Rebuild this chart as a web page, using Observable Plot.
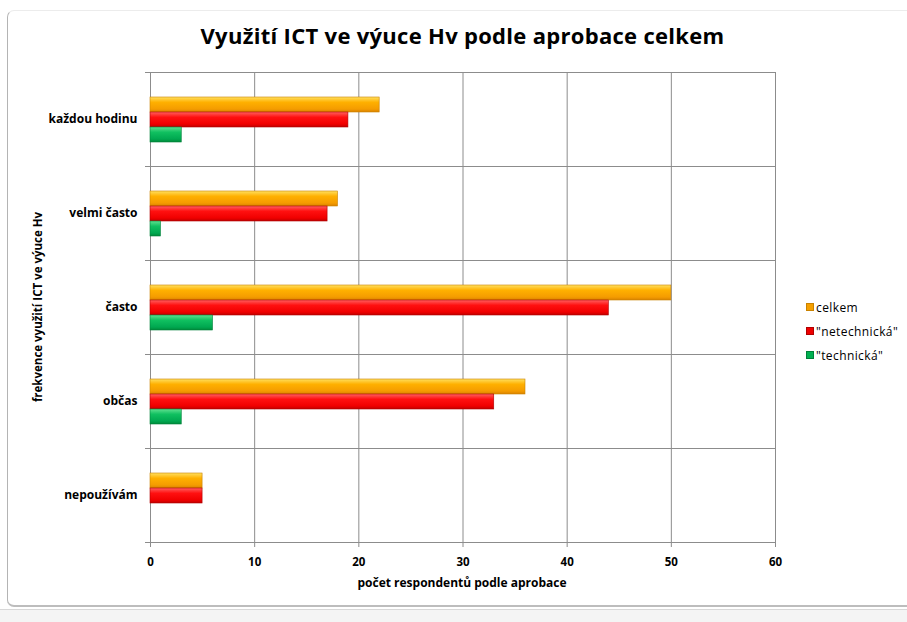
<!DOCTYPE html>
<html><head><meta charset="utf-8">
<script src="https://cdn.jsdelivr.net/npm/d3@7"></script>
<script src="https://cdn.jsdelivr.net/npm/@observablehq/plot@0.6"></script>
<style>
body{margin:0;background:#fff;font-family:"Open Sans",sans-serif;}
#wrap{position:relative;width:907px;height:622px;overflow:hidden;background:#fff;}
#frame{position:absolute;left:7px;top:10px;width:920px;height:597px;border-left:1.5px solid #b4b4b4;border-top:1px solid #ececec;border-bottom:2px solid #bdbdbd;border-top-left-radius:7px;border-bottom-left-radius:7px;box-sizing:border-box;}
#strip{position:absolute;left:0;top:609px;width:907px;height:13px;background:#f4f4f4;border-top:1px solid #d8d8d8;}
#chart{position:absolute;left:0;top:0;}
#title{position:absolute;left:0;width:925px;top:20px;text-align:center;font-weight:700;font-size:22px;color:#000;letter-spacing:0.3px;}
#ylabel{position:absolute;left:37px;top:307px;transform:translate(-50%,-50%) rotate(-90deg);white-space:nowrap;font-weight:700;font-size:11.5px;color:#000;}
#xlabel{position:absolute;left:462px;top:574px;transform:translateX(-50%);white-space:nowrap;font-weight:700;font-size:12px;color:#000;}
#legend{position:absolute;left:806px;top:295px;font-size:12px;letter-spacing:0.4px;color:#000;}
#legend div{height:24px;display:flex;align-items:center;}
#legend span.sw{display:inline-block;width:8px;height:8px;margin-right:2px;box-sizing:border-box;}
</style></head><body>
<svg width="0" height="0" style="position:absolute">
<defs>
<linearGradient id="gOrange" x1="0" y1="0" x2="0" y2="1">
<stop offset="0" stop-color="#ffe060"/><stop offset="0.35" stop-color="#ffb000"/><stop offset="0.8" stop-color="#f59c00"/><stop offset="1" stop-color="#d98300"/>
</linearGradient>
<linearGradient id="gRed" x1="0" y1="0" x2="0" y2="1">
<stop offset="0" stop-color="#ff6060"/><stop offset="0.35" stop-color="#ff1010"/><stop offset="0.8" stop-color="#f00000"/><stop offset="1" stop-color="#c00000"/>
</linearGradient>
<linearGradient id="gGreen" x1="0" y1="0" x2="0" y2="1">
<stop offset="0" stop-color="#60e090"/><stop offset="0.35" stop-color="#10c060"/><stop offset="0.8" stop-color="#00a850"/><stop offset="1" stop-color="#008a3a"/>
</linearGradient>
</defs>
</svg>
<div id="wrap">
<div id="frame"></div>
<div id="strip"></div>
<div id="chart"></div>
<div id="title">Využití ICT ve výuce Hv podle aprobace celkem</div>
<div id="ylabel">frekvence využití ICT ve výuce Hv</div>
<div id="xlabel">počet respondentů podle aprobace</div>
<div id="legend"></div>
</div>
<script>
const categories = ["každou hodinu", "velmi často", "často", "občas", "nepoužívám"];
const series = ["celkem", "\"netechnická\"", "\"technická\""];
const celkem = [22, 18, 50, 36, 5];
const netechnicka = [19, 17, 44, 33, 5];
const technicka = [3, 1, 6, 3, 0];
const xTicks = [0, 10, 20, 30, 40, 50, 60];

const fills = ["url(#gOrange)", "url(#gRed)", "url(#gGreen)"];
const strokes = ["#c98200", "#b00000", "#00803a"];
const swatch = ["#f5a000", "#ee0000", "#00b050"];

const seriesValues = [celkem, netechnicka, technicka];
const data = [];
categories.forEach((c, i) => {
  series.forEach((s, j) => {
    data.push({category: c, series: s, value: seriesValues[j][i], stroke: strokes[j]});
  });
});

const grid = "#8c8c8c";
const plot = Plot.plot({
  width: 907,
  height: 622,
  marginLeft: 150,
  marginRight: 132,
  marginTop: 70,
  marginBottom: 79,
  style: {fontFamily: "'Open Sans', sans-serif", fontSize: "11.5px", fontWeight: "bold", color: "#000", background: "transparent", overflow: "visible"},
  x: {domain: [0, 60], label: null},
  y: {domain: series, axis: null, paddingInner: 0, paddingOuter: 1.6},
  fy: {domain: categories, padding: 0, axis: null, label: null},
  color: {domain: series, range: fills},
  marks: [
    Plot.gridX(xTicks, {stroke: grid, strokeOpacity: 1, strokeWidth: 1}),
    Plot.frame({stroke: grid, strokeWidth: 1}),
    Plot.barX(data, {x: "value", y: "series", fy: "category", fill: "series", stroke: "stroke", strokeWidth: 0.6, filter: d => d.value > 0}),
    Plot.axisX({ticks: xTicks, tickSize: 5, tickPadding: 10, stroke: grid, label: null}),
    Plot.axisFy({anchor: "left", tickSize: 0, tickPadding: 13, label: null, fontSize: "12px"})
  ]
});
document.getElementById("chart").appendChild(plot);

// small tick marks at category boundaries on the left axis
const fy = plot.scale("fy");
const svg = d3.select(plot);
const bounds = categories.map(c => fy.apply(c)).concat([fy.apply(categories[categories.length - 1]) + fy.bandwidth]);
svg.append("g").selectAll("line").data(bounds).join("line")
  .attr("x1", 145).attr("x2", 150)
  .attr("y1", d => d + 0.5).attr("y2", d => d + 0.5)
  .attr("stroke", grid);

const legend = document.getElementById("legend");
series.forEach((s, j) => {
  const row = document.createElement("div");
  row.innerHTML = `<span class="sw" style="background:${swatch[j]};border:1px solid ${strokes[j]}"></span>${s}`;
  legend.appendChild(row);
});
</script>
</body></html>
